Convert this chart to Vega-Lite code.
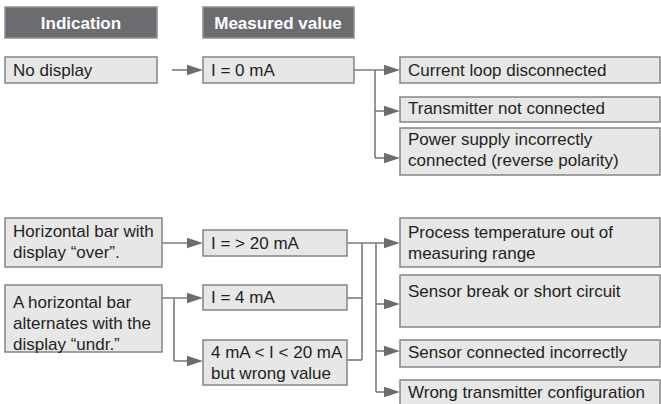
{
  "$schema": "https://vega.github.io/schema/vega-lite/v6.json",
  "width": 661,
  "height": 404,
  "padding": 0,
  "autosize": {"type": "none"},
  "background": "#ffffff",
  "config": {"view": {"stroke": null}},
  "datasets": {
    "boxes": [
      {"name": "Indication", "kind": "header", "x1": 5, "x2": 157, "y1": 7, "y2": 38},
      {"name": "Measured value", "kind": "header", "x1": 203, "x2": 354, "y1": 7, "y2": 38},
      {"name": "No display", "kind": "box", "x1": 5, "x2": 157, "y1": 57, "y2": 83},
      {"name": "Horizontal bar over", "kind": "box", "x1": 5, "x2": 162, "y1": 218, "y2": 267},
      {"name": "Horizontal bar undr", "kind": "box", "x1": 5, "x2": 162, "y1": 285, "y2": 352},
      {"name": "I = 0 mA", "kind": "box", "x1": 203, "x2": 354, "y1": 57, "y2": 83},
      {"name": "I = > 20 mA", "kind": "box", "x1": 203, "x2": 347, "y1": 230, "y2": 256},
      {"name": "I = 4 mA", "kind": "box", "x1": 203, "x2": 347, "y1": 285, "y2": 310},
      {"name": "4-20 wrong", "kind": "box", "x1": 203, "x2": 347, "y1": 340, "y2": 385},
      {"name": "Current loop", "kind": "box", "x1": 400, "x2": 660, "y1": 57, "y2": 83},
      {"name": "Transmitter", "kind": "box", "x1": 400, "x2": 660, "y1": 97, "y2": 122},
      {"name": "Power supply", "kind": "box", "x1": 400, "x2": 660, "y1": 128, "y2": 175},
      {"name": "Process temperature", "kind": "box", "x1": 400, "x2": 660, "y1": 218, "y2": 267},
      {"name": "Sensor break", "kind": "box", "x1": 400, "x2": 660, "y1": 275, "y2": 327},
      {"name": "Sensor connected", "kind": "box", "x1": 400, "x2": 660, "y1": 340, "y2": 367},
      {"name": "Wrong transmitter", "kind": "box", "x1": 400, "x2": 660, "y1": 380, "y2": 410}
    ],
    "labels": [
      {"label": "Indication", "kind": "header", "x": 81, "y": 29},
      {"label": "Measured value", "kind": "header", "x": 278, "y": 29},
      {"label": "No display", "kind": "box", "x": 13, "y": 76},
      {"label": "Horizontal bar with\ndisplay “over”.", "kind": "box", "x": 13, "y": 237},
      {"label": "A horizontal bar\nalternates with the\ndisplay “undr.”", "kind": "box", "x": 13, "y": 308},
      {"label": "I = 0 mA", "kind": "box", "x": 211, "y": 76},
      {"label": "I = > 20 mA", "kind": "box", "x": 211, "y": 249},
      {"label": "I = 4 mA", "kind": "box", "x": 211, "y": 303},
      {"label": "4 mA < I < 20 mA\nbut wrong value", "kind": "box", "x": 211, "y": 358},
      {"label": "Current loop disconnected", "kind": "box", "x": 408, "y": 76},
      {"label": "Transmitter not connected", "kind": "box", "x": 408, "y": 114},
      {"label": "Power supply incorrectly\nconnected (reverse polarity)", "kind": "box", "x": 408, "y": 145},
      {"label": "Process temperature out of\nmeasuring range", "kind": "box", "x": 408, "y": 238},
      {"label": "Sensor break or short circuit", "kind": "box", "x": 408, "y": 297},
      {"label": "Sensor connected incorrectly", "kind": "box", "x": 408, "y": 358},
      {"label": "Wrong transmitter configuration", "kind": "box", "x": 408, "y": 398}
    ],
    "lines": [
      {"x": 172, "y": 70, "x2": 195, "y2": 70},
      {"x": 354, "y": 70, "x2": 395, "y2": 70},
      {"x": 375, "y": 70, "x2": 375, "y2": 158},
      {"x": 375, "y": 111, "x2": 395, "y2": 111},
      {"x": 375, "y": 158, "x2": 395, "y2": 158},
      {"x": 162, "y": 243, "x2": 195, "y2": 243},
      {"x": 162, "y": 298, "x2": 195, "y2": 298},
      {"x": 174, "y": 298, "x2": 174, "y2": 361},
      {"x": 174, "y": 361, "x2": 195, "y2": 361},
      {"x": 347, "y": 243, "x2": 395, "y2": 243},
      {"x": 347, "y": 298, "x2": 362, "y2": 298},
      {"x": 347, "y": 360, "x2": 362, "y2": 360},
      {"x": 362, "y": 243, "x2": 362, "y2": 360},
      {"x": 376, "y": 243, "x2": 376, "y2": 392},
      {"x": 376, "y": 304, "x2": 395, "y2": 304},
      {"x": 376, "y": 351, "x2": 395, "y2": 351},
      {"x": 376, "y": 392, "x2": 395, "y2": 392}
    ],
    "arrows": [
      {"x": 203, "y": 70},
      {"x": 400, "y": 70},
      {"x": 400, "y": 111},
      {"x": 400, "y": 158},
      {"x": 203, "y": 243},
      {"x": 203, "y": 298},
      {"x": 203, "y": 361},
      {"x": 400, "y": 243},
      {"x": 400, "y": 304},
      {"x": 400, "y": 351},
      {"x": 400, "y": 392}
    ]
  },
  "layer": [
    {
      "data": {"name": "lines"},
      "mark": {"type": "rule", "color": "#7b7b7d", "strokeWidth": 1.6},
      "encoding": {
        "x": {"field": "x", "type": "quantitative", "scale": {"domain": [0, 661], "nice": false, "zero": false}, "axis": null},
        "x2": {"field": "x2"},
        "y": {"field": "y", "type": "quantitative", "scale": {"domain": [0, 404], "nice": false, "zero": false, "reverse": true}, "axis": null},
        "y2": {"field": "y2"}
      }
    },
    {
      "data": {"name": "boxes"},
      "mark": {"type": "rect", "strokeWidth": 1.5},
      "encoding": {
        "x": {"field": "x1", "type": "quantitative", "scale": {"domain": [0, 661], "nice": false, "zero": false}, "axis": null},
        "x2": {"field": "x2"},
        "y": {"field": "y1", "type": "quantitative", "scale": {"domain": [0, 404], "nice": false, "zero": false, "reverse": true}, "axis": null},
        "y2": {"field": "y2"},
        "fill": {"field": "kind", "type": "nominal", "scale": {"domain": ["header", "box"], "range": ["#6b6c6f", "#e7e7e8"]}, "legend": null},
        "stroke": {"field": "kind", "type": "nominal", "scale": {"domain": ["header", "box"], "range": ["#8e8f91", "#858587"]}, "legend": null}
      }
    },
    {
      "data": {"name": "arrows"},
      "mark": {"type": "point", "shape": "M-2,-0.65L0,0L-2,0.65Z", "size": 256, "filled": true, "color": "#6b6c6f", "opacity": 1, "strokeWidth": 0},
      "encoding": {
        "x": {"field": "x", "type": "quantitative", "scale": {"domain": [0, 661], "nice": false, "zero": false}, "axis": null},
        "y": {"field": "y", "type": "quantitative", "scale": {"domain": [0, 404], "nice": false, "zero": false, "reverse": true}, "axis": null}
      }
    },
    {
      "data": {"name": "labels"},
      "transform": [{"filter": "datum.kind === 'header'"}],
      "mark": {"type": "text", "align": "center", "baseline": "alphabetic", "font": "Liberation Sans", "fontSize": 17, "fontWeight": "bold", "color": "#ffffff"},
      "encoding": {
        "x": {"field": "x", "type": "quantitative", "scale": {"domain": [0, 661], "nice": false, "zero": false}, "axis": null},
        "y": {"field": "y", "type": "quantitative", "scale": {"domain": [0, 404], "nice": false, "zero": false, "reverse": true}, "axis": null},
        "text": {"field": "label"}
      }
    },
    {
      "data": {"name": "labels"},
      "transform": [{"filter": "datum.kind === 'box'"}],
      "mark": {"type": "text", "align": "left", "baseline": "alphabetic", "font": "Liberation Sans", "fontSize": 17, "lineBreak": "\n", "lineHeight": 21, "color": "#231f20"},
      "encoding": {
        "x": {"field": "x", "type": "quantitative", "scale": {"domain": [0, 661], "nice": false, "zero": false}, "axis": null},
        "y": {"field": "y", "type": "quantitative", "scale": {"domain": [0, 404], "nice": false, "zero": false, "reverse": true}, "axis": null},
        "text": {"field": "label"}
      }
    }
  ]
}
